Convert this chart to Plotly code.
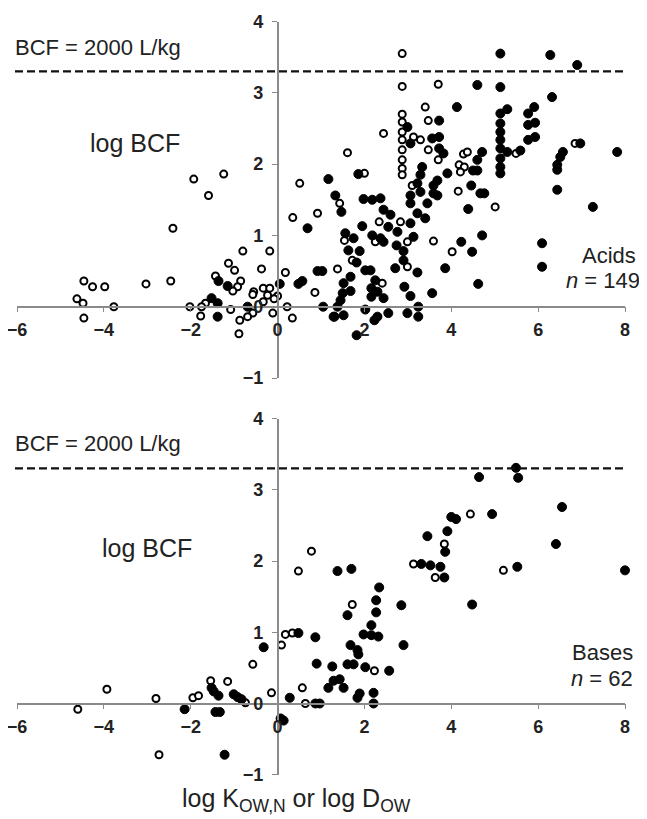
import plotly.graph_objects as go

# ---------------- data ----------------
acid_open_x = [-4.46, -4.26, -3.98, -4.62, -4.48, -4.46, -3.77, -3.03, -2.46, -2.41, -1.93, -1.59, -1.24,
               0.51, 0.35, 0.92, -0.80, -0.18, -1.13, -0.99, -0.37, 0.18, -1.43, -0.85, -0.92, -1.03,
               -0.55, -0.57, -0.33, -0.18, -0.23, 0.00, -0.08, -0.33, 0.86, 0.22, 0.34, -0.11, -0.57,
               -0.69, -0.87, -0.89, -1.08, -1.66, -1.75, -1.77, -2.02, 1.38,
               2.87, 2.87, 3.70, 3.40, 2.87, 2.87, 3.47, 2.87, 2.87, 2.87, 2.87, 2.87, 2.87, 2.44,
               1.61, 2.00, 3.13, 3.29, 3.47, 3.70, 4.28, 4.37, 4.18, 4.30, 4.21, 3.10, 4.16, 5.49,
               6.85, 5.01, 4.02, 3.59, 2.99, 2.99, 2.83, 2.34, 2.25, 1.54, 1.72, 2.41, 1.43]
acid_open_y = [0.36, 0.28, 0.28, 0.11, 0.05, -0.16, 0.00, 0.32, 0.36, 1.10, 1.79, 1.56, 1.86,
               1.73, 1.25, 1.31, 0.78, 0.78, 0.61, 0.51, 0.53, 0.48, 0.43, 0.36, 0.28, 0.22,
               0.21, 0.17, 0.26, 0.26, 0.16, 0.15, 0.11, 0.07, 0.20, 0.00, -0.16, -0.09, -0.09,
               -0.14, -0.19, -0.38, -0.04, 0.05, 0.00, -0.13, 0.00, 0.53,
               3.55, 3.09, 3.12, 2.80, 2.70, 2.59, 2.61, 2.45, 2.34, 2.20, 2.06, 1.94, 1.85, 2.43,
               2.16, 1.87, 2.38, 2.34, 2.20, 2.06, 2.14, 2.17, 1.99, 1.96, 1.89, 1.70, 1.62, 2.15,
               2.29, 1.40, 0.77, 0.92, 0.56, 0.91, 1.19, 1.19, 0.91, 0.93, 0.65, 0.33, 1.45]

acid_fill_x = [0.69, -1.36, -1.15, 0.05, 0.48, 0.57, 0.92, 1.03, 1.05, -0.69, -1.38, -1.38, -1.52, 1.38, 1.31,
               5.13, 6.28, 6.90, 4.60, 5.13, 6.32, 4.13, 2.99, 3.72, 1.17, 1.86, 3.06, 3.56, 3.72, 3.72,
               3.82, 4.71, 4.60, 4.60, 4.50, 3.33, 3.29, 3.91, 3.68, 3.22, 3.29, 3.59, 3.59, 4.46, 4.67, 4.76,
               5.13, 5.29, 5.13, 5.13, 5.13, 5.13, 5.29, 5.59, 5.13, 5.13, 5.13, 5.77, 5.91, 5.77, 5.93,
               5.77, 5.93, 6.97, 7.82, 6.57, 6.51, 6.44, 6.44, 6.44, 7.26, 6.09, 6.09, 4.62, 4.39, 4.71,
               4.23, 4.48, 3.86, 3.56, 3.24, 3.24, 2.99, 2.92, 3.06, 3.22, 2.71, 2.90, 2.90, 2.74, 3.13,
               2.76, 2.55, 3.06, 2.60, 2.44, 2.37, 2.18, 1.98, 1.95, 2.18, 2.37, 2.44, 1.56, 1.75, 1.63,
               1.89, 1.82, 2.02, 2.14, 1.68, 1.52, 1.68, 1.50, 2.25, 2.16, 2.30, 2.16, 2.44, 1.45, 2.02,
               1.29, 1.52, 2.55, 2.30, 2.23, 1.82, 1.33, 1.47, 3.06, 3.06, 3.45, 3.22, 3.40, 3.68]
acid_fill_y = [1.10, 0.36, 0.29, 0.32, 0.32, 0.36, 0.50, 0.50, 0.00, 0.00, -0.14, 0.05, 0.12, 0.00, -0.14,
               3.55, 3.53, 3.39, 3.11, 3.08, 2.94, 2.80, 2.52, 2.61, 1.79, 1.86, 2.29, 2.36, 2.38, 2.22,
               2.15, 2.17, 2.06, 1.91, 1.91, 1.96, 1.85, 1.87, 1.77, 1.73, 1.61, 1.70, 1.59, 1.70, 1.59, 1.59,
               2.71, 2.77, 2.57, 2.45, 2.34, 2.22, 2.17, 2.19, 2.08, 1.96, 1.87, 2.71, 2.80, 2.55, 2.58,
               2.34, 2.38, 2.29, 2.17, 2.17, 2.10, 1.99, 1.92, 1.64, 1.40, 0.89, 0.56, 0.32, 1.37, 1.00,
               0.91, 0.77, 0.54, 0.19, 0.00, -0.14, -0.09, 0.28, 0.15, 0.48, 0.54, 0.65, 0.78, 0.86, 0.98,
               1.05, 1.12, 1.17, 1.29, 1.36, 1.52, 1.50, 1.51, 1.13, 1.00, 0.96, 0.91, 1.03, 0.96, 0.79,
               0.78, 0.62, 0.51, 0.51, 0.42, 0.33, 0.22, 0.19, 0.37, 0.26, 0.21, 0.14, 0.12, 0.09, -0.04,
               -0.14, -0.12, -0.09, -0.14, -0.19, -0.40, 1.56, 1.33, 1.56, 1.45, 1.45, 1.31, 1.24, 1.56]

base_open_x = [0.48, 0.78, 5.20, 4.44, 3.84, 3.13, 3.63, 1.72, 2.23, 0.64, 0.57, 0.18, 0.34, 0.09, -0.14,
               -3.93, -4.60, -2.80, -2.73, -1.95, -1.82, -1.54, -1.15, -0.74, -0.57]
base_open_y = [1.86, 2.14, 1.87, 2.66, 2.24, 1.96, 1.77, 1.39, 0.46, 0.00, 0.22, 0.97, 0.99, 0.82, 0.15,
               0.20, -0.08, 0.07, -0.72, 0.08, 0.11, 0.32, 0.31, 0.01, 0.55]

base_fill_x = [5.49, 5.54, 4.64, 6.55, 6.41, 8.00, 5.52, 4.94, 4.00, 4.11, 3.91, 3.45, 3.86, 3.31, 3.52,
               3.75, 3.84, 4.48, 1.38, 1.70, 2.34, 2.27, 2.27, 1.61, 2.85, 2.16, 1.98, 2.16, 2.32, 0.87,
               1.68, 1.84, 1.86, 2.90, 0.90, 1.26, 1.61, 1.75, 2.02, 2.57, 1.29, 1.43, 1.17, 1.52, 1.89,
               1.84, 2.21, 2.21, 0.87, 0.97, 0.48, -0.32, 0.28, 0.07, 0.14, -2.14, -1.52, -1.47, -1.36,
               -1.43, -1.33, -1.01, -0.92, -0.83, -1.22]
base_fill_y = [3.31, 3.17, 3.18, 2.76, 2.24, 1.87, 1.92, 2.66, 2.62, 2.59, 2.42, 2.35, 2.13, 1.96, 1.94,
               1.92, 1.77, 1.39, 1.86, 1.89, 1.63, 1.45, 1.28, 1.24, 1.38, 1.10, 0.97, 0.96, 0.94, 0.93,
               0.82, 0.75, 0.69, 0.82, 0.56, 0.52, 0.55, 0.55, 0.51, 0.46, 0.32, 0.34, 0.22, 0.22, 0.14,
               0.08, 0.15, 0.00, 0.00, 0.00, 0.99, 0.79, 0.08, -0.21, -0.24, -0.08, 0.22, 0.17, 0.11,
               -0.12, -0.12, 0.13, 0.09, 0.06, -0.72]

x_ticks = [-6, -4, -2, 0, 2, 4, 6, 8]
y_ticks = [-1, 0, 1, 2, 3, 4]
bcf_2000 = 3.301

# ---------------- layout geometry ----------------
# the page body has an 8px margin, so the figure is shrunk by 8px and all
# window-pixel positions are shifted by 8px
OFF = 8
WIN_W, WIN_H = 647, 819
W, H = WIN_W - OFF, WIN_H - OFF


def xp(px):
    return (px - OFF) / W


def yp(py):
    return 1 - (py - OFF) / H


XR = [-6, 8]
YR = [-1, 4]
xdom = [xp(17), xp(625)]
ydom_top = [yp(378), yp(21.5)]
ydom_bot = [yp(774.7), yp(418.7)]


def frac(v, rng, dom):
    return dom[0] + (v - rng[0]) / (rng[1] - rng[0]) * (dom[1] - dom[0])


AXC = "#8a8a8a"
TXT = "#222222"
FONT = "Liberation Sans, Arial, sans-serif"

fig = go.Figure()

open_marker = dict(symbol="circle", size=7, color="white", line=dict(color="black", width=2))
fill_marker = dict(symbol="circle", size=9, color="black", line=dict(color="black", width=1))

fig.add_trace(go.Scatter(x=acid_open_x, y=acid_open_y, mode="markers", marker=open_marker,
                         xaxis="x", yaxis="y", cliponaxis=False, showlegend=False))
fig.add_trace(go.Scatter(x=acid_fill_x, y=acid_fill_y, mode="markers", marker=fill_marker,
                         xaxis="x", yaxis="y", cliponaxis=False, showlegend=False))
fig.add_trace(go.Scatter(x=base_open_x, y=base_open_y, mode="markers", marker=open_marker,
                         xaxis="x2", yaxis="y2", cliponaxis=False, showlegend=False))
fig.add_trace(go.Scatter(x=base_fill_x, y=base_fill_y, mode="markers", marker=fill_marker,
                         xaxis="x2", yaxis="y2", cliponaxis=False, showlegend=False))

tickfont = dict(family=FONT, size=18, color="#222222", weight="bold")

xax = dict(range=XR, domain=xdom, anchor="free", showline=True, linecolor=AXC, linewidth=1.5,
           ticks="outside", ticklen=5, tickwidth=1.2, tickcolor=AXC, tickvals=x_ticks,
           showgrid=False, zeroline=False, tickfont=tickfont, fixedrange=True, automargin=False,
           ticklabelstandoff=2, ticklabeloverflow="allow")
yax = dict(range=YR, anchor="free", showline=True, linecolor=AXC, linewidth=1.5,
           ticks="outside", ticklen=5, tickwidth=1.2, tickcolor=AXC, tickvals=y_ticks,
           showgrid=False, zeroline=False, tickfont=tickfont, fixedrange=True, automargin=False,
           ticklabelstandoff=5, ticklabeloverflow="allow",
           position=frac(0, XR, xdom))

fig.update_layout(
    width=W, height=H, margin=dict(l=0, r=0, t=0, b=0, pad=0, autoexpand=False),
    paper_bgcolor="white", plot_bgcolor="white",
    xaxis=dict(xax, position=frac(0, YR, ydom_top)),
    yaxis=dict(yax, domain=ydom_top),
    xaxis2=dict(xax, position=frac(0, YR, ydom_bot)),
    yaxis2=dict(yax, domain=ydom_bot),
)

# threshold dashed lines
for yref in ("y", "y2"):
    fig.add_shape(type="line", xref="paper", yref=yref, x0=xp(15), x1=xp(627), y0=bcf_2000, y1=bcf_2000,
                  line=dict(color="#111111", width=2.2, dash="8px,4px"))


def txt(px, py, s, size, xanchor="left"):
    fig.add_annotation(x=xp(px), y=yp(py), xref="paper", yref="paper", text=s, showarrow=False,
                       xanchor=xanchor, yanchor="middle",
                       font=dict(family=FONT, size=size, color=TXT))


txt(13, 47, "BCF = 2000 L/kg", 22)
txt(13, 443, "BCF = 2000 L/kg", 22)
txt(135, 143, "log BCF", 25, xanchor="center")
txt(147, 548, "log BCF", 25, xanchor="center")
txt(638, 255, "Acids", 22, xanchor="right")
txt(642, 280, "<i>n</i> = 149", 22, xanchor="right")
txt(635, 652, "Bases", 22, xanchor="right")
txt(635, 678, "<i>n</i> = 62", 22, xanchor="right")
txt(296, 800, "log K<sub>OW,N</sub> or log D<sub>OW</sub>", 25, xanchor="center")

fig.write_html("out.html")
